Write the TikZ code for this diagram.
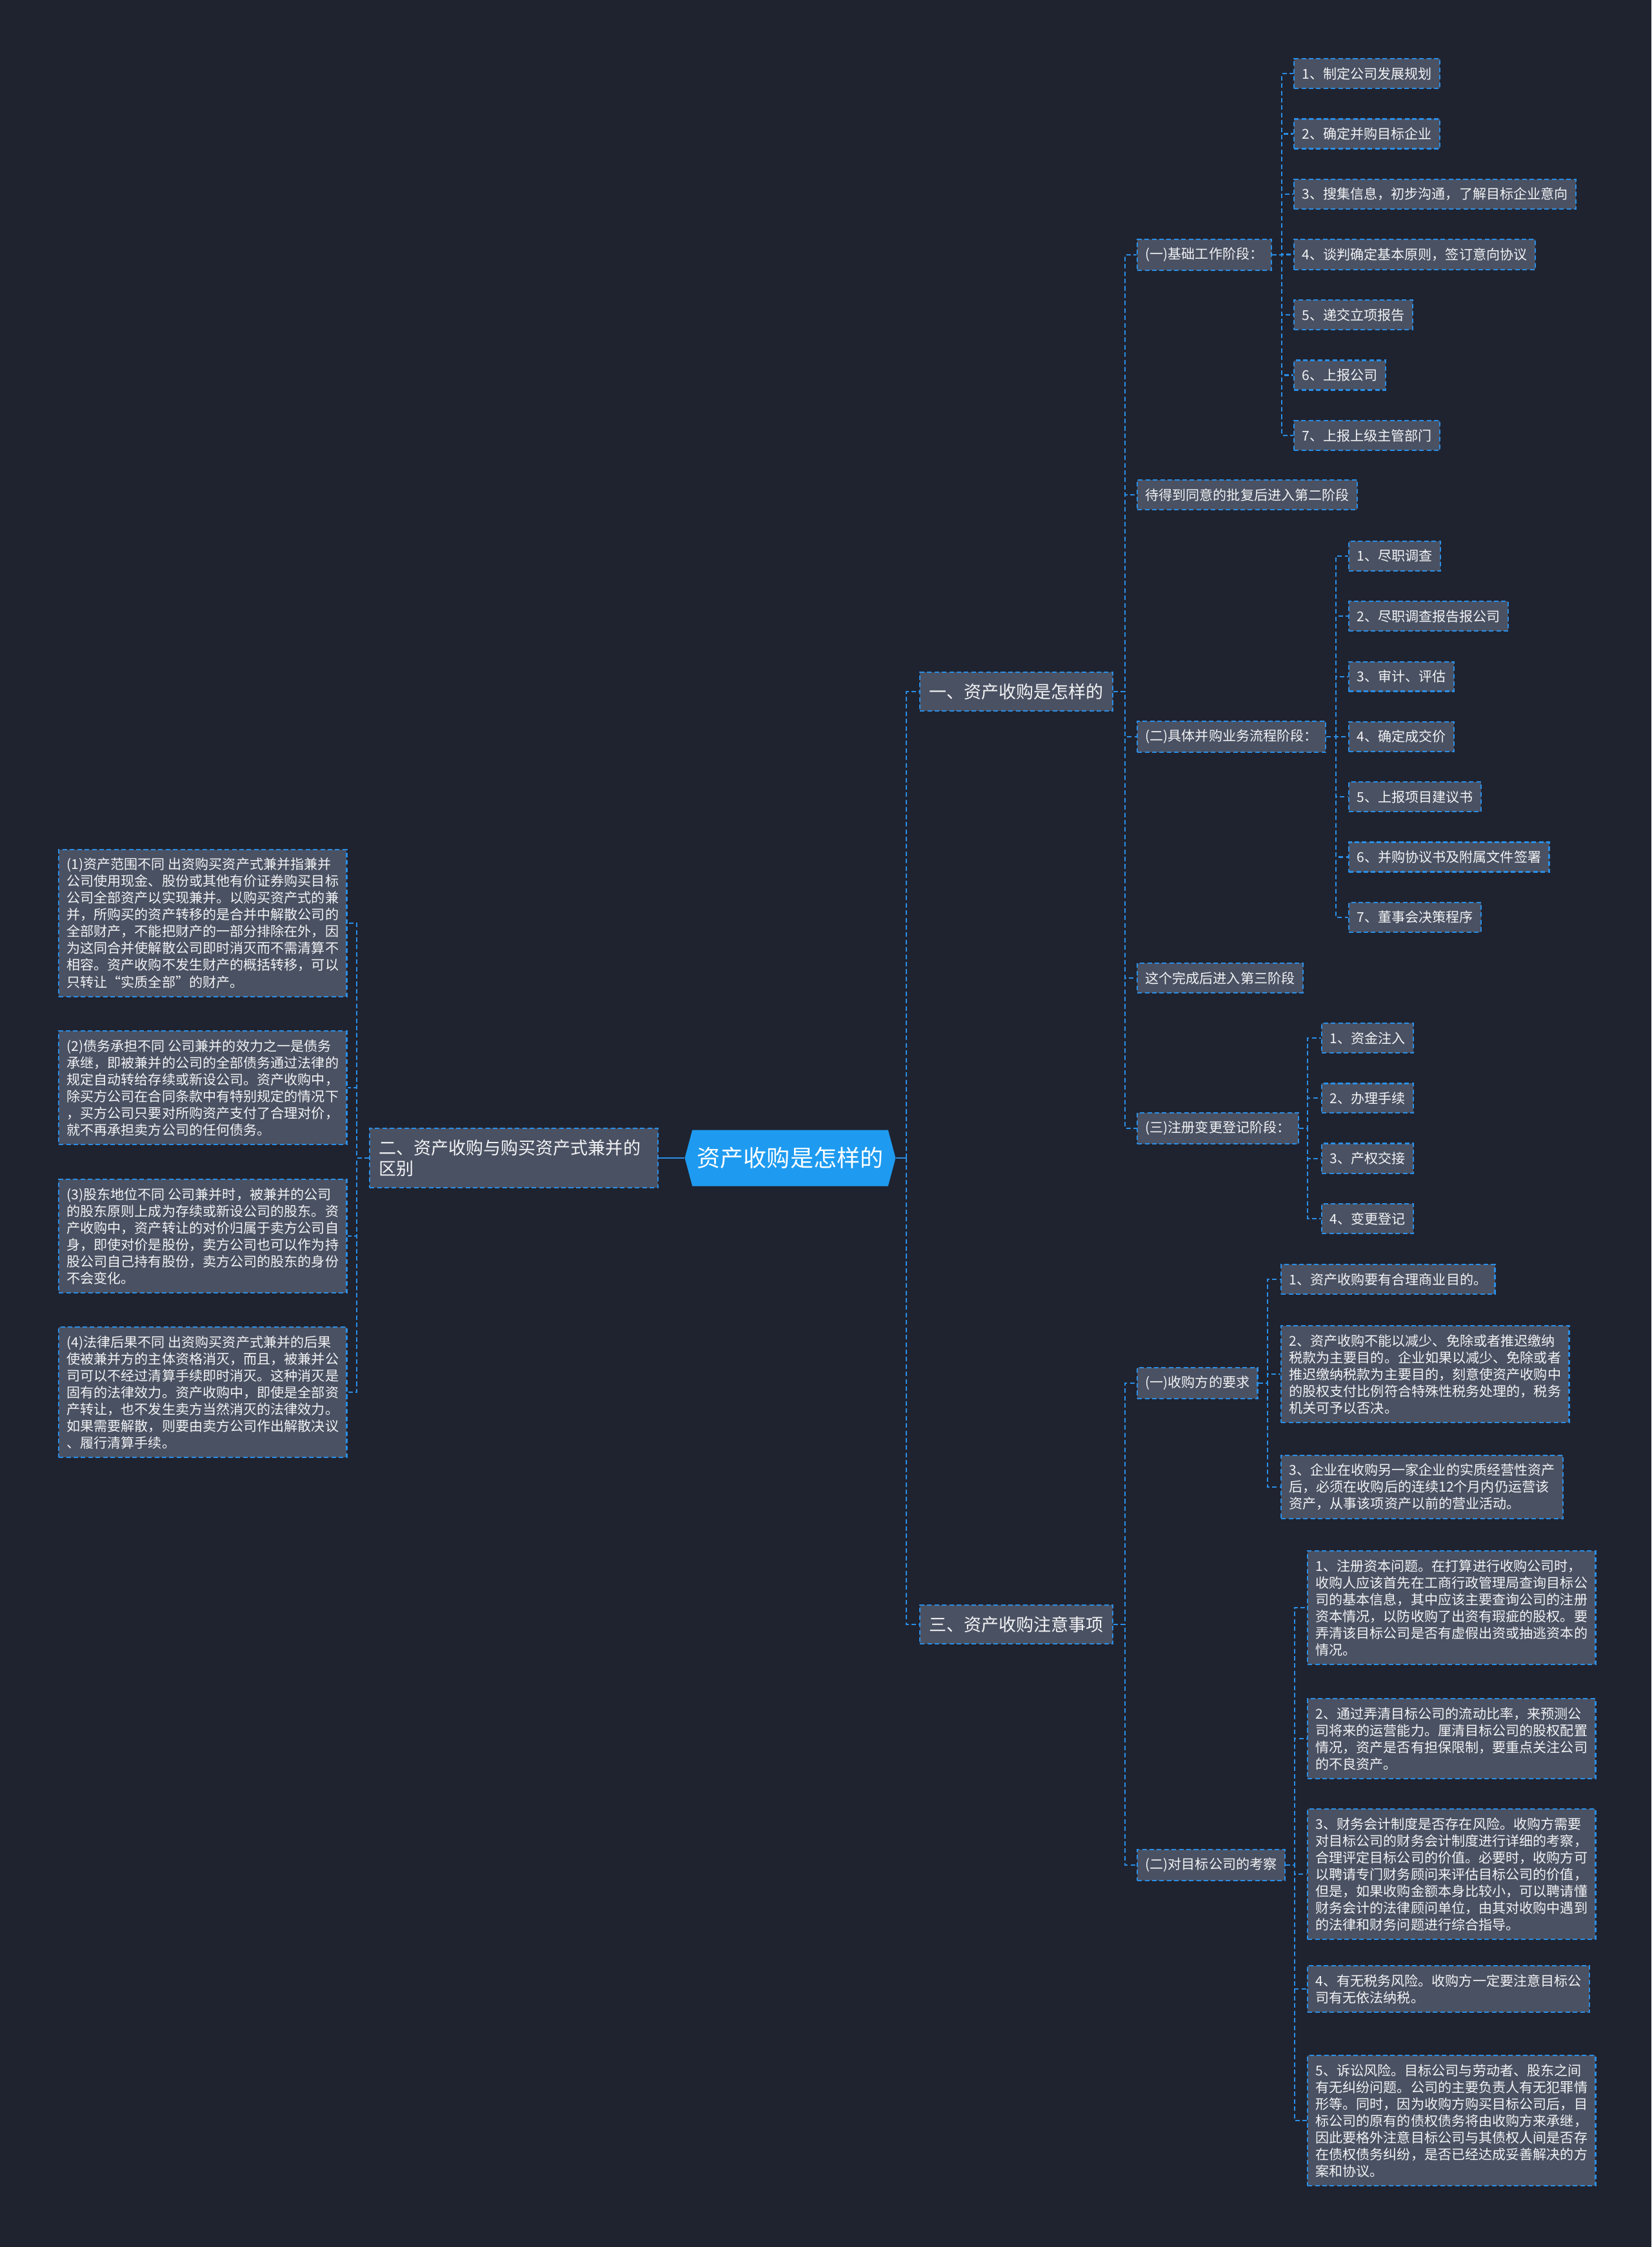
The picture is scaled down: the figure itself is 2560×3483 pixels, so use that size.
\documentclass[tikz,border=0pt]{standalone}
\usepackage{fontspec}
\setmainfont{Noto Sans CJK SC}
\usetikzlibrary{shapes.symbols}

\definecolor{bgcol}{HTML}{1F2330}
\definecolor{boxcol}{HTML}{4A5162}
\definecolor{linecol}{HTML}{2A8EE6}
\definecolor{rootcol}{HTML}{1E9BF0}
\definecolor{txtcol}{HTML}{F2F3F5}

\begin{document}
\begin{tikzpicture}[
  x=0.02cm, y=-0.02cm,
  every node/.style={text=txtcol, inner sep=0pt},
  box/.style={draw=linecol, line width=1.3pt, dash pattern=on 4pt off 2.5pt,
    fill=boxcol, anchor=west, align=left, inner xsep=7pt, inner ysep=7.5pt,
    font=\fontsize{12}{14.8}\selectfont},
  mainbox/.style={box, inner xsep=8pt, inner ysep=10pt,
    font=\fontsize{15.4}{18}\selectfont},
  rootbox/.style={shape=signal, signal to=west and east, signal pointer angle=150,
    fill=rootcol, minimum width=186pt, minimum height=49.5pt, text=white,
    font=\fontsize{20.5}{24}\selectfont},
  link/.style={draw=linecol, line width=1.2pt, dash pattern=on 4pt off 2.5pt},
  solidlink/.style={draw=linecol, line width=1.6pt},
]

% background / page size
\fill[bgcol] (0,0) rectangle (2560,3483);

% ================================================================
% Root and main branches
% ================================================================
\node[rootbox] (root) at (1225,1795) {资产收购是怎样的};

\node[mainbox] (m1) at (1425,1072) {一、资产收购是怎样的};
\node[mainbox, text width=8.38cm] (m2) at (572,1795)
  {二、资产收购与购买资产式兼并的\\区别};
\node[mainbox] (m3) at (1425,2518) {三、资产收购注意事项};

% trunk positions
\coordinate (trunkR)  at (1405,0);
\coordinate (trunkL)  at (553,0);
\coordinate (trunkM)  at (1744,0);
\coordinate (trunkS1) at (1987,0);
\coordinate (trunkS3) at (2071,0);
\coordinate (trunkS5) at (2027,0);
\coordinate (trunkR1) at (1965,0);
\coordinate (trunkR2) at (2007,0);

\draw[solidlink] (root.west) -- (m2.east);
\draw[solidlink] (root.east) -- (root.east -| trunkR);
\foreach \m in {m1, m3}
  \draw[link] (root.east -| trunkR) |- (\m.west);

% ================================================================
% Branch 1: steps
% ================================================================
\node[box] (s1) at (1762,395)  {(一)基础工作阶段：};
\node[box] (s2) at (1762,767)  {待得到同意的批复后进入第二阶段};
\node[box] (s3) at (1762,1142) {(二)具体并购业务流程阶段：};
\node[box] (s4) at (1762,1516) {这个完成后进入第三阶段};
\node[box] (s5) at (1762,1749) {(三)注册变更登记阶段：};

\foreach \s in {s1, s2, s3, s4, s5}
  \draw[link] (m1.east) -- (m1.east -| trunkM) |- (\s.west);

% --- (一) ---
\foreach \i/\txt in {1/{1、制定公司发展规划}, 2/{2、确定并购目标企业},
    3/{3、搜集信息，初步沟通，了解目标企业意向}, 4/{4、谈判确定基本原则，签订意向协议},
    5/{5、递交立项报告}, 6/{6、上报公司}, 7/{7、上报上级主管部门}}
  \node[box] (a\i) at (2005,{114+93.5*(\i-1)}) {\txt};
\foreach \i in {1,...,7}
  \draw[link] (s1.east) -- (s1.east -| trunkS1) |- (a\i.west);

% --- (二) ---
\foreach \i/\txt in {1/{1、尽职调查}, 2/{2、尽职调查报告报公司}, 3/{3、审计、评估},
    4/{4、确定成交价}, 5/{5、上报项目建议书}, 6/{6、并购协议书及附属文件签署},
    7/{7、董事会决策程序}}
  \node[box] (b\i) at (2090,{862+93.3*(\i-1)}) {\txt};
\foreach \i in {1,...,7}
  \draw[link] (s3.east) -- (s3.east -| trunkS3) |- (b\i.west);

% --- (三) ---
\foreach \i/\txt in {1/{1、资金注入}, 2/{2、办理手续}, 3/{3、产权交接}, 4/{4、变更登记}}
  \node[box] (c\i) at (2048,{1609+93.3*(\i-1)}) {\txt};
\foreach \i in {1,...,4}
  \draw[link] (s5.east) -- (s5.east -| trunkS5) |- (c\i.west);

% ================================================================
% Branch 2: differences (left side)
% ================================================================
\node[box] (l1) at (90,1431) {(1)资产范围不同 出资购买资产式兼并指兼并\\
  公司使用现金、股份或其他有价证券购买目标\\
  公司全部资产以实现兼并。以购买资产式的兼\\
  并，所购买的资产转移的是合并中解散公司的\\
  全部财产，不能把财产的一部分排除在外，因\\
  为这同合并使解散公司即时消灭而不需清算不\\
  相容。资产收购不发生财产的概括转移，可以\\
  只转让“实质全部”的财产。};
\node[box] (l2) at (90,1686) {(2)债务承担不同 公司兼并的效力之一是债务\\
  承继，即被兼并的公司的全部债务通过法律的\\
  规定自动转给存续或新设公司。资产收购中，\\
  除买方公司在合同条款中有特别规定的情况下\\
  ，买方公司只要对所购资产支付了合理对价，\\
  就不再承担卖方公司的任何债务。};
\node[box] (l3) at (90,1916) {(3)股东地位不同 公司兼并时，被兼并的公司\\
  的股东原则上成为存续或新设公司的股东。资\\
  产收购中，资产转让的对价归属于卖方公司自\\
  身，即使对价是股份，卖方公司也可以作为持\\
  股公司自己持有股份，卖方公司的股东的身份\\
  不会变化。};
\node[box] (l4) at (90,2158) {(4)法律后果不同 出资购买资产式兼并的后果\\
  使被兼并方的主体资格消灭，而且，被兼并公\\
  司可以不经过清算手续即时消灭。这种消灭是\\
  固有的法律效力。资产收购中，即使是全部资\\
  产转让，也不发生卖方当然消灭的法律效力。\\
  如果需要解散，则要由卖方公司作出解散决议\\
  、履行清算手续。};

\foreach \i in {1,...,4}
  \draw[link] (m2.west) -- (m2.west -| trunkL) |- (l\i.east);

% ================================================================
% Branch 3: points for attention
% ================================================================
\node[box] (r1) at (1762,2144) {(一)收购方的要求};
\node[box] (r2) at (1762,2891) {(二)对目标公司的考察};

\foreach \r in {r1, r2}
  \draw[link] (m3.east) -- (m3.east -| trunkM) |- (\r.west);

% --- buyer requirements ---
\node[box] (d1) at (1985,1983) {1、资产收购要有合理商业目的。};
\node[box] (d2) at (1985,2130) {2、资产收购不能以减少、免除或者推迟缴纳\\
  税款为主要目的。企业如果以减少、免除或者\\
  推迟缴纳税款为主要目的，刻意使资产收购中\\
  的股权支付比例符合特殊性税务处理的，税务\\
  机关可予以否决。};
\node[box] (d3) at (1985,2305) {3、企业在收购另一家企业的实质经营性资产\\
  后，必须在收购后的连续12个月内仍运营该\\
  资产，从事该项资产以前的营业活动。};

\foreach \i in {1,...,3}
  \draw[link] (r1.east) -- (r1.east -| trunkR1) |- (d\i.west);

% --- target company checks ---
\node[box] (e1) at (2026,2492) {1、注册资本问题。在打算进行收购公司时，\\
  收购人应该首先在工商行政管理局查询目标公\\
  司的基本信息，其中应该主要查询公司的注册\\
  资本情况，以防收购了出资有瑕疵的股权。要\\
  弄清该目标公司是否有虚假出资或抽逃资本的\\
  情况。};
\node[box] (e2) at (2026,2695) {2、通过弄清目标公司的流动比率，来预测公\\
  司将来的运营能力。厘清目标公司的股权配置\\
  情况，资产是否有担保限制，要重点关注公司\\
  的不良资产。};
\node[box] (e3) at (2026,2905) {3、财务会计制度是否存在风险。收购方需要\\
  对目标公司的财务会计制度进行详细的考察，\\
  合理评定目标公司的价值。必要时，收购方可\\
  以聘请专门财务顾问来评估目标公司的价值，\\
  但是，如果收购金额本身比较小，可以聘请懂\\
  财务会计的法律顾问单位，由其对收购中遇到\\
  的法律和财务问题进行综合指导。};
\node[box] (e4) at (2026,3083) {4、有无税务风险。收购方一定要注意目标公\\
  司有无依法纳税。};
\node[box] (e5) at (2026,3287) {5、诉讼风险。目标公司与劳动者、股东之间\\
  有无纠纷问题。公司的主要负责人有无犯罪情\\
  形等。同时，因为收购方购买目标公司后，目\\
  标公司的原有的债权债务将由收购方来承继，\\
  因此要格外注意目标公司与其债权人间是否存\\
  在债权债务纠纷，是否已经达成妥善解决的方\\
  案和协议。};

\foreach \i in {1,...,5}
  \draw[link] (r2.east) -- (r2.east -| trunkR2) |- (e\i.west);

\end{tikzpicture}
\end{document}
